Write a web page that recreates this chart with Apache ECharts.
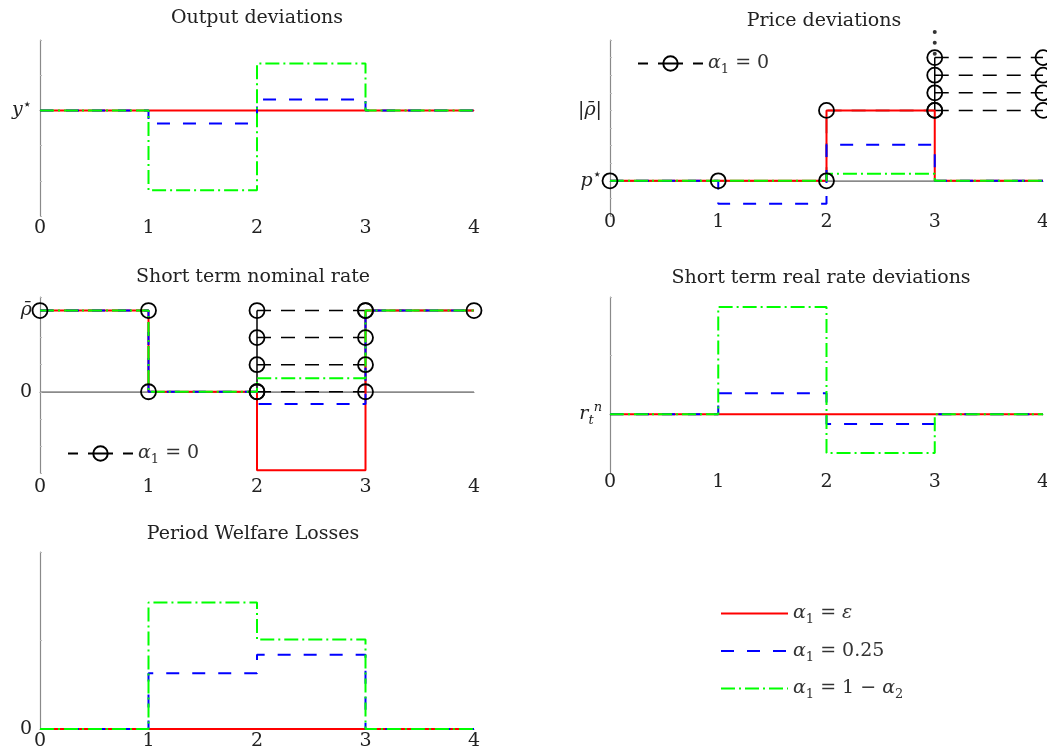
<!DOCTYPE html>
<html><head><meta charset="utf-8">
<script src="https://cdn.jsdelivr.net/npm/echarts@6/dist/echarts.min.js"></script>
<style>html,body{margin:0;padding:0;background:#fff}#c{width:1047px;height:751px}</style>
</head><body><div id="c"></div>
<script>
// ---- data (period i spans [i, i+1]) ----
const xTicks = [0, 1, 2, 3, 4];
const outputRed = [0, 0, 0, 0];
const outputBlue = [0, -0.37, 0.31, 0];
const outputGreen = [0, -2.27, 1.33, 0];
const priceRed = [0, 0, 4, 0];
const priceBlue = [0, -1.3, 2.05, 0];
const priceGreen = [0, 0, 0.4, 0];
const priceBlackPath = [[0, 0], [1, 0], [2, 0], [2, 4], [3, 4]];
const priceBranchLevels = [4, 5, 6, 7];
const priceDots = [7.22, 7.84, 8.45];
const nominalRed = [3, 0, -2.9, 3];
const nominalBlue = [3, 0, -0.45, 3];
const nominalGreen = [3, 0, 0.5, 3];
const nominalBlackPath = [[0, 3], [1, 3], [1, 0], [2, 0]];
const nominalBranchLevels = [0, 1, 2, 3];
const realRed = [0, 0, 0, 0];
const realBlue = [0, 0.36, -0.165, 0];
const realGreen = [0, 1.83, -0.66, 0];
const welfareRed = [0, 0, 0, 0];
const welfareBlue = [0, 0.63, 0.84, 0];
const welfareGreen = [0, 1.43, 1.01, 0];
const titles = ['Output deviations', 'Price deviations', 'Short term nominal rate', 'Short term real rate deviations', 'Period Welfare Losses'];
const yLabels = [
  {0: '{i|y}{st|⋆}'},
  {0: '{i|p}{st|⋆}', 4: '|{i|ρ\u0304}|'},
  {0: '0', 3: '{i|ρ\u0304}'},
  {0: '{i|r}{sub|t}{sup|n}'},
  {0: '0'}
];

// ---- layout / style ----
const FONT = 'DejaVu Serif';
const grids = [
  {left: 40, top: 40, width: 434, height: 176},
  {left: 610, top: 40, width: 433, height: 176},
  {left: 40, top: 297, width: 434, height: 176},
  {left: 610, top: 297, width: 433, height: 176},
  {left: 40, top: 552, width: 434, height: 177}
].map(g => Object.assign({outerBoundsMode: 'none', containLabel: false}, g));
const yRanges = [[-3, 2], [-2, 8], [-3, 3.5], [-1, 2], [0, 2]];
const xMargins = [3, -3, 5, 0, 3];
const titlePos = [[257, 9], [824, 12], [253, 268], [821, 269], [253, 525]];

function steps(v) { const d = []; v.forEach((y, i) => { d.push([i, y]); d.push([i + 1, y]); }); return d; }

const RED = '#ff0000', BLUE = '#0000ff', GREEN = '#00ff00';
const richText = {
  i: {fontFamily: FONT, fontStyle: 'italic', fontSize: 19, lineHeight: 26, verticalAlign: 'middle', color: '#222'},
  a: {fontFamily: FONT, fontStyle: 'italic', fontSize: 19, lineHeight: 26, verticalAlign: 'middle', color: '#333'},
  t: {fontFamily: FONT, fontSize: 19, lineHeight: 26, verticalAlign: 'middle', color: '#333'},
  st: {fontFamily: 'DejaVu Sans', fontSize: 15, lineHeight: 16, verticalAlign: 'top', color: '#222'},
  sup: {fontFamily: FONT, fontStyle: 'italic', fontSize: 13, lineHeight: 14, verticalAlign: 'top', color: '#222'},
  sub: {fontFamily: FONT, fontStyle: 'italic', fontSize: 13, lineHeight: 12, verticalAlign: 'bottom', color: '#222'},
  s: {fontFamily: FONT, fontSize: 13, lineHeight: 12, verticalAlign: 'bottom', color: '#333'}
};
const legendNames = {
  a0: '{a|α}{s|1}{t| = 0}',
  aEps: '{a|α}{s|1}{t| = }{a|ε}',
  a025: '{a|α}{s|1}{t| = 0.25}',
  a1m: '{a|α}{s|1}{t| = 1 − }{a|α}{s|2}'
};

const xAxis = grids.map((g, k) => ({
  gridIndex: k, type: 'value', min: 0, max: 4, interval: 1,
  axisLine: {lineStyle: {color: '#8a8a8a', width: 1.2}},
  axisTick: {show: false}, splitLine: {show: false},
  axisLabel: {margin: xMargins[k], fontFamily: FONT, fontSize: 19, color: '#222',
    formatter: v => (xTicks.indexOf(v) >= 0 ? String(v) : '')}
}));
const yAxis = grids.map((g, k) => ({
  gridIndex: k, type: 'value', min: yRanges[k][0], max: yRanges[k][1], interval: 1,
  axisLine: {show: true, lineStyle: {color: '#8a8a8a', width: 1.2}},
  axisTick: {show: true, inside: true, length: 2, lineStyle: {color: '#bbb'}},
  splitLine: {show: false},
  axisLabel: {margin: 8, fontFamily: FONT, fontSize: 19, lineHeight: 26, color: '#222', rich: richText,
    formatter: v => (yLabels[k][v] !== undefined ? yLabels[k][v] : '')}
}));

const series = [];
function zeroLine(k) {
  series.push({type: 'line', xAxisIndex: k, yAxisIndex: k, name: 'zero', data: [[0, 0], [4, 0]],
    symbol: 'none', silent: true, lineStyle: {color: '#8a8a8a', width: 1}});
}
const circleStyle = {color: 'rgba(0,0,0,0)', borderColor: '#000', borderWidth: 1.8};
function blackLine(k, name, data, dashed, withSymbol) {
  series.push({type: 'line', xAxisIndex: k, yAxisIndex: k, name: name, data: data, clip: false,
    symbol: withSymbol ? 'circle' : 'none', symbolSize: 15, showSymbol: withSymbol,
    itemStyle: circleStyle,
    lineStyle: {color: '#000', width: 1.5, type: dashed ? [14, 10] : 'solid'}});
}
function colored(k, r, b, g) {
  series.push({type: 'line', xAxisIndex: k, yAxisIndex: k, name: 'aEps', data: steps(r), symbol: 'none', clip: false,
    itemStyle: {color: RED}, lineStyle: {color: RED, width: 2, type: 'solid'}});
  series.push({type: 'line', xAxisIndex: k, yAxisIndex: k, name: 'a025', data: steps(b), symbol: 'none', clip: false,
    itemStyle: {color: BLUE}, lineStyle: {color: BLUE, width: 2, type: [13, 13]}});
  series.push({type: 'line', xAxisIndex: k, yAxisIndex: k, name: 'a1m', data: steps(g), symbol: 'none', clip: false,
    itemStyle: {color: GREEN}, lineStyle: {color: GREEN, width: 2, type: [14, 4, 2, 4]}});
}

// panel 1
colored(0, outputRed, outputBlue, outputGreen);
// panel 2
zeroLine(1);
blackLine(1, 'a0', priceBlackPath, true, true);
priceBranchLevels.forEach(L => blackLine(1, 'branch', [[3, L], [4, L]], true, true));
blackLine(1, 'branchV', [[3, priceBranchLevels[0]], [3, priceBranchLevels[priceBranchLevels.length - 1]]], false, false);
series.push({type: 'scatter', xAxisIndex: 1, yAxisIndex: 1, name: 'dots', clip: false, symbolSize: 4,
  itemStyle: {color: '#000'}, data: priceDots.map(v => [3, v])});
colored(1, priceRed, priceBlue, priceGreen);
// panel 3
zeroLine(2);
blackLine(2, 'a0', nominalBlackPath, true, true);
nominalBranchLevels.forEach(L => blackLine(2, 'branch', [[2, L], [3, L]], true, true));
blackLine(2, 'branchV', [[2, nominalBranchLevels[0]], [2, nominalBranchLevels[nominalBranchLevels.length - 1]]], false, false);
blackLine(2, 'branchV', [[3, nominalBranchLevels[0]], [3, nominalBranchLevels[nominalBranchLevels.length - 1]]], false, false);
blackLine(2, 'branch', [[3, 3], [4, 3]], true, true);
colored(2, nominalRed, nominalBlue, nominalGreen);
// panel 4
colored(3, realRed, realBlue, realGreen);
// panel 5
colored(4, welfareRed, welfareBlue, welfareGreen);

const legendText = {fontFamily: FONT, fontSize: 19, color: '#333', rich: richText};
const hiddenSymbol = {color: 'rgba(0,0,0,0)', borderColor: 'rgba(0,0,0,0)', borderWidth: 0};
const option = {
  animation: false,
  backgroundColor: '#fff',
  title: titles.map((t, k) => ({text: t, left: titlePos[k][0], top: titlePos[k][1], textAlign: 'center', padding: 0,
    textStyle: {fontFamily: FONT, fontSize: 19, fontWeight: 'normal', color: '#222'}})),
  grid: grids,
  xAxis: xAxis,
  yAxis: yAxis,
  legend: [
    {data: ['aEps', 'a025', 'a1m'], orient: 'vertical', left: 715, top: 599, itemWidth: 67, itemHeight: 14, itemGap: 15,
      selectedMode: false, itemStyle: hiddenSymbol, formatter: n => legendNames[n], textStyle: legendText},
    {data: ['a0'], left: 632, top: 49, itemWidth: 65, itemHeight: 18, selectedMode: false,
      lineStyle: {type: [10, 10, 25, 10, 10, 10]}, formatter: n => legendNames[n], textStyle: legendText},
    {data: ['a0'], left: 62, top: 439, itemWidth: 65, itemHeight: 18, selectedMode: false,
      lineStyle: {type: [10, 10, 25, 10, 10, 10]}, formatter: n => legendNames[n], textStyle: legendText}
  ],
  series: series
};
const chart = echarts.init(document.getElementById('c'), null, {renderer: 'canvas'});
chart.setOption(option);
</script></body></html>
